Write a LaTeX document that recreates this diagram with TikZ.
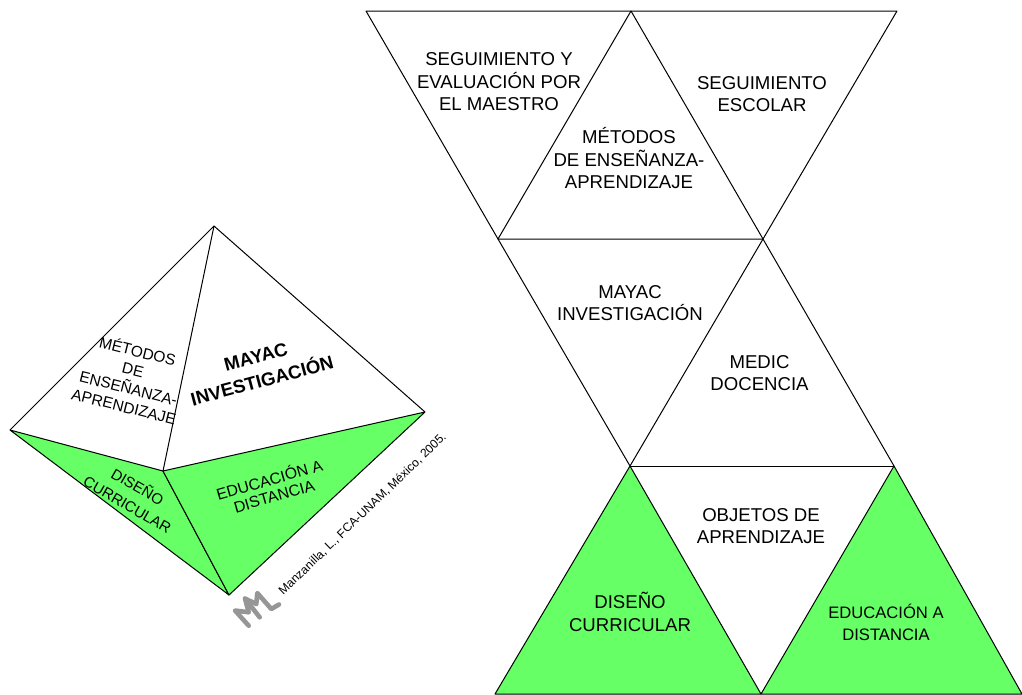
\documentclass[tikz,border=0pt]{standalone}
\usepackage{fontspec}
\setmainfont{Liberation Sans}
\definecolor{lgreen}{RGB}{102,255,102}
\definecolor{logogray}{RGB}{150,150,150}
\tikzset{
  tri/.style={draw=black,line width=1pt,line join=round},
  green/.style={tri,fill=lgreen},
  lab/.style={align=center,font=\fontsize{18.6}{22.5}\selectfont,inner sep=0pt},
  labs/.style={align=center,font=\fontsize{15.5}{19}\selectfont,inner sep=0pt},
  logo/.style={draw=logogray,line width=4.6pt,line join=round,line cap=round}
}
\begin{document}
\begin{tikzpicture}[x=1pt,y=-1pt]
\useasboundingbox (0,0) rectangle (1022,694);
% coordinates right figure
\coordinate (tl) at (366,11);
\coordinate (tm) at (631,11);
\coordinate (tr) at (897,11);
\coordinate (ml) at (498,239);
\coordinate (mr) at (763,239);
\coordinate (cl) at (630,466);
\coordinate (cr) at (894,466);
\coordinate (bl) at (495,694);
\coordinate (bm) at (761,694);
\coordinate (br) at (1022,694);
\draw[green] (cl) -- (bm) -- (bl) -- cycle;
\draw[green] (cr) -- (br) -- (bm) -- cycle;
\draw[tri] (tl) -- (tr) -- (mr) -- (ml) -- cycle;
\draw[tri] (ml) -- (tm) -- (mr);
\draw[tri] (ml) -- (cl) -- (mr);
\draw[tri] (mr) -- (cr);
\draw[tri] (cl) -- (cr);
\node[lab] (n1) at (499,82) {SEGUIMIENTO Y\\EVALUACIÓN POR\\EL MAESTRO};
\node[lab] (n2) at (762,94) {SEGUIMIENTO\\ESCOLAR};
\node[lab] (n3) at (629,158.5) {MÉTODOS\\DE ENSEÑANZA-\\APRENDIZAJE};
\node[lab] (n4) at (630,303) {MAYAC\\INVESTIGACIÓN};
\node[lab] (n5) at (759.5,373) {MEDIC\\DOCENCIA};
\node[lab] (n6) at (761,526) {OBJETOS DE\\APRENDIZAJE};
\node[lab] (n7) at (630,612) {DISEÑO\\CURRICULAR};
\node[lab,font=\fontsize{16.6}{22}\selectfont] (n8) at (886,622) {EDUCACIÓN A\\DISTANCIA};
% left pyramid
\coordinate (pa) at (214,226);
\coordinate (pl) at (10,430);
\coordinate (pc) at (163,471);
\coordinate (pr) at (425,412);
\coordinate (pb) at (229,595);
\draw[green] (pl) -- (pc) -- (pb) -- cycle;
\draw[green] (pc) -- (pr) -- (pb) -- cycle;
\draw[tri] (pl) -- (pa) -- (pr);
\draw[tri] (pa) -- (pc);
\node[labs,rotate=-14] (m1) at (131,378) {MÉTODOS\\DE\\ENSEÑANZA-\\APRENDIZAJE};
\node[align=center,inner sep=0pt,font=\fontsize{18.6}{24.5}\bfseries\selectfont,rotate=15] (m2) at (259,369) {MAYAC\\INVESTIGACIÓN};
\node[align=center,inner sep=0pt,font=\fontsize{15}{20.5}\selectfont,rotate=-30] (m3) at (133,495) {DISEÑO\\CURRICULAR};
\node[labs,font=\fontsize{15.8}{17}\selectfont,rotate=16] (m4) at (271.5,487) {EDUCACIÓN A\\DISTANCIA};
\node[rotate=44,inner sep=0pt,font=\fontsize{12.1}{14}\selectfont] (m5) at (362.5,514) {Manzanilla, L., FCA-UNAM, México, 2005.};
% logo
\draw[logo] (248.7,625.7) -- (235,610.5) -- (248.7,612.3) -- (245,598.5) -- (259.7,617.3);
\draw[logo] (245,598.5) -- (256.3,604) -- (257.3,593) -- (271.3,609) -- (279,604.5);
\end{tikzpicture}
\end{document}
